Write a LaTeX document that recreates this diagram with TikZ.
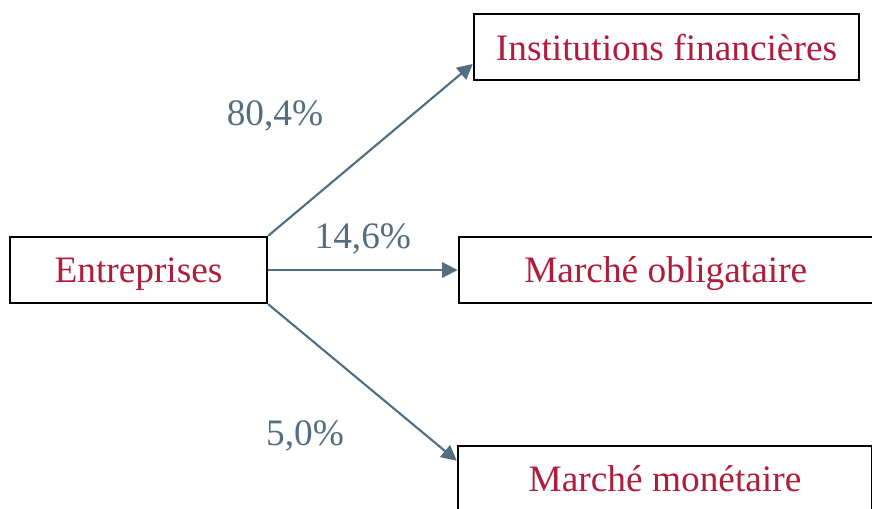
\documentclass[tikz,border=0pt]{standalone}
\usepackage{fontspec}
\setmainfont{Liberation Serif}
\usetikzlibrary{arrows.meta, positioning}
\definecolor{crimson}{RGB}{176,28,60}
\definecolor{slate}{RGB}{84,110,128}

\begin{document}
\begin{tikzpicture}[
  x=0.75pt, y=-0.75pt,
  box/.style={rectangle, draw=black, line width=1.8pt, minimum height=49.5pt,
    inner sep=0pt, text depth=0pt, text=crimson, font=\fontsize{28}{32}\selectfont},
  edge/.style={-{Triangle[length=11.5pt, width=11.5pt]}, line width=1.6pt, draw=slate},
  share/.style={text=slate, font=\fontsize{28}{32}\selectfont}
]
\clip (0,0) rectangle (872,509);
\node[box, minimum width=192.75pt] (ent) at (138.5,270) {Entreprises};
\node[box, minimum width=288.75pt] (inst) at (666.5,47) {Institutions financières};
\node[box, minimum width=310.5pt, right=142pt of ent] (oblig) {Marché obligataire};
\node[box, minimum width=310.5pt] (mon) at (665,479) {Marché monétaire};

\node[share] (p804) at (275,116) {80,4\%};
\node[share] (p50) at (305,436) {5,0\%};

\draw[edge] (ent.north east) -- (inst.185);
\draw[edge] (ent.east) -- node[share, above=7.5pt] (p146) {14,6\%} (oblig.west);
\draw[edge] (ent.south east) -- (mon.175);
\end{tikzpicture}
\end{document}
